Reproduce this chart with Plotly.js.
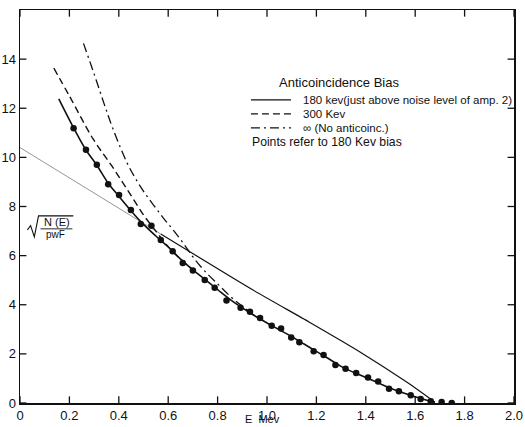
<!DOCTYPE html>
<html>
<head>
<meta charset="utf-8">
<script src="https://cdn.plot.ly/plotly-3.0.1.min.js"></script>
<style>html,body{margin:0;padding:0;background:#fff;}#chart{width:525px;height:427px;}</style>
</head>
<body>
<div id="chart"></div>
<script>
// ---- data ----
const pointsE = [0.217,0.267,0.311,0.357,0.401,0.449,0.489,0.532,0.570,0.618,0.659,0.700,0.748,0.788,0.836,0.893,0.931,0.972,1.019,1.057,1.098,1.131,1.189,1.229,1.277,1.318,1.361,1.409,1.450,1.494,1.534,1.582,1.622,1.663,1.707,1.748];
const pointsN = [11.19,10.31,9.70,8.91,8.47,7.86,7.29,7.22,6.64,6.18,5.70,5.39,5.01,4.69,4.17,3.88,3.71,3.46,3.15,3.03,2.67,2.47,2.11,1.95,1.55,1.39,1.22,1.04,0.88,0.58,0.48,0.32,0.16,0.07,0.04,0.0];

const fit180E = [0.157,0.217,0.267,0.311,0.357,0.40,0.45,0.50,0.55,0.60,0.65,0.70,0.75,0.80,0.85,0.90,0.95,1.00,1.05,1.10,1.15,1.20,1.25,1.30,1.35,1.40,1.45,1.50,1.55,1.60,1.65,1.68];
const fit180N = [12.38,11.20,10.30,9.68,8.95,8.42,7.82,7.27,6.80,6.35,5.86,5.42,5.02,4.62,4.22,3.87,3.55,3.26,2.98,2.70,2.40,2.10,1.80,1.49,1.25,1.04,0.82,0.60,0.42,0.25,0.10,0.02];

const fit300E = [0.137,0.20,0.296,0.371,0.433,0.502,0.543,0.591,0.64,0.70];
const fit300N = [13.63,12.50,10.75,9.66,8.71,7.63,7.09,6.47,5.95,5.42];

const fitInfE = [0.257,0.30,0.34,0.376,0.432,0.47,0.507,0.545,0.583,0.62,0.665,0.70,0.747,0.80,0.856,0.904,0.95];
const fitInfN = [14.64,13.40,12.20,11.17,9.81,9.10,8.52,8.00,7.50,7.05,6.45,5.95,5.38,4.85,4.30,3.91,3.55];

const lineLeftE = [0.0,0.34,0.57];
const lineLeftN = [10.40,8.30,6.88];
const lineRightE = [0.57,0.94,1.17,1.37,1.57,1.68];
const lineRightN = [6.88,4.62,3.30,2.12,0.82,0.03];

const xTickVals = [0,0.2,0.4,0.6,0.8,1.0,1.2,1.4,1.6,1.8,2.0];
const xTickText = ["0","0.2","0.4","0.6","0.8","1.0","1.2","1.4","1.6","1.8","2.0"];
const yTickVals = [0,2,4,6,8,10,12,14];
const yTickText = ["0","2","4","6","8","10","12","14"];

const xTitle = "E  Mev";
const legendTitle = "Anticoincidence Bias";
const legendRows = ["180 kev(just above noise level of amp. 2)","300 Kev","\u221E (No anticoinc.)"];
const legendNote = "Points refer to 180 Kev bias";
// ---------------------------------------

const FONT = "Liberation Sans, Arial, sans-serif";
const INK = '#111';
const X_RANGE = [0,2], Y_RANGE = [0,16];

// inward tick marks on all four sides, built from the tick values
const tkX = [], tkY = [];
const lenY = 0.27, lenX = 0.026;   // tick length in axis units (about 6-7 px)
xTickVals.forEach(v=>{
  tkX.push(v, v, null, v, v, null);
  tkY.push(Y_RANGE[0], Y_RANGE[0]+lenY, null, Y_RANGE[1], Y_RANGE[1]-lenY, null);
});
yTickVals.forEach(v=>{
  tkX.push(X_RANGE[0], X_RANGE[0]+lenX, null, X_RANGE[1], X_RANGE[1]-lenX, null);
  tkY.push(v, v, null, v, v, null);
});

const traces = [
  {x: lineLeftE, y: lineLeftN, mode:'lines', line:{color:'#8a8a8a', width:0.9}, hoverinfo:'skip'},
  {x: lineRightE, y: lineRightN, mode:'lines', line:{color:INK, width:1.2, shape:'spline', smoothing:0.6}, hoverinfo:'skip'},
  {x: fit300E, y: fit300N, mode:'lines', line:{color:INK, width:1.4, dash:'7px,4px', shape:'spline'}},
  {x: fitInfE, y: fitInfN, mode:'lines', line:{color:INK, width:1.3, dash:'9px,4px,2px,4px', shape:'spline'}},
  {x: fit180E, y: fit180N, mode:'lines', line:{color:INK, width:1.6, shape:'spline'}},
  {x: pointsE, y: pointsN, mode:'markers', marker:{color:INK, size:6.5}},
  {x: tkX, y: tkY, mode:'lines', connectgaps:false, line:{color:INK, width:1.3}, hoverinfo:'skip'}
];

const shapes = [];
const annotations = [];

const legY = [12.34, 11.77, 11.2];
const dashes = ['solid','7px,4px','9px,4px,2px,4px'];
legY.forEach((yy,i)=>{
  shapes.push({type:'line', xref:'x', yref:'y', x0:0.935, x1:1.097, y0:yy, y1:yy, line:{color:INK, width:1.2, dash:dashes[i]}});
  annotations.push({xref:'x', yref:'y', x:1.137, y:yy, text:legendRows[i], showarrow:false, xanchor:'left', yanchor:'middle', font:{family:FONT, size:11.5, color:INK}});
});
annotations.push({xref:'x', yref:'y', x:1.29, y:13.03, text:legendTitle, showarrow:false, xanchor:'center', yanchor:'middle', font:{family:FONT, size:13, color:INK}});
annotations.push({xref:'x', yref:'y', x:0.931, y:10.63, text:legendNote, showarrow:false, xanchor:'left', yanchor:'middle', font:{family:FONT, size:12.2, color:INK}});
// x-axis title, at the bottom edge as in the reference
annotations.push({xref:'paper', yref:'paper', x:0.49, y:-0.062, text:xTitle, showarrow:false, xanchor:'center', yanchor:'bottom', font:{family:FONT, size:11, color:INK}});

// y-axis label sqrt(N(E)/pwF), drawn inside the frame
shapes.push({type:'path', xref:'x', yref:'y', path:'M 0.030 7.05 L 0.043 7.22 L 0.058 6.76 L 0.075 7.62 L 0.216 7.62', line:{color:INK, width:1.1}});
shapes.push({type:'line', xref:'x', yref:'y', x0:0.083, x1:0.212, y0:7.09, y1:7.09, line:{color:INK, width:0.9}});
annotations.push({xref:'x', yref:'y', x:0.148, y:7.36, text:'N (E)', showarrow:false, font:{family:FONT, size:11, color:INK}});
annotations.push({xref:'x', yref:'y', x:0.142, y:6.84, text:'pwF', showarrow:false, font:{family:FONT, size:10, color:INK}});

const axisCommon = {showgrid:false, zeroline:false, showline:true, linecolor:INK, linewidth:1.5, mirror:true, ticks:'', tickfont:{family:FONT, size:13, color:INK}, fixedrange:true};

const layout = {
  width:525, height:427,
  margin:{l:20, r:11, t:10, b:24},
  paper_bgcolor:'#fff', plot_bgcolor:'#fff',
  showlegend:false,
  xaxis: Object.assign({}, axisCommon, {range:X_RANGE, tickmode:'array', tickvals:xTickVals, ticktext:xTickText}),
  yaxis: Object.assign({}, axisCommon, {range:Y_RANGE, tickmode:'array', tickvals:yTickVals, ticktext:yTickText}),
  shapes: shapes,
  annotations: annotations
};

Plotly.newPlot('chart', traces, layout, {staticPlot:true, displayModeBar:false});
</script>
</body>
</html>
